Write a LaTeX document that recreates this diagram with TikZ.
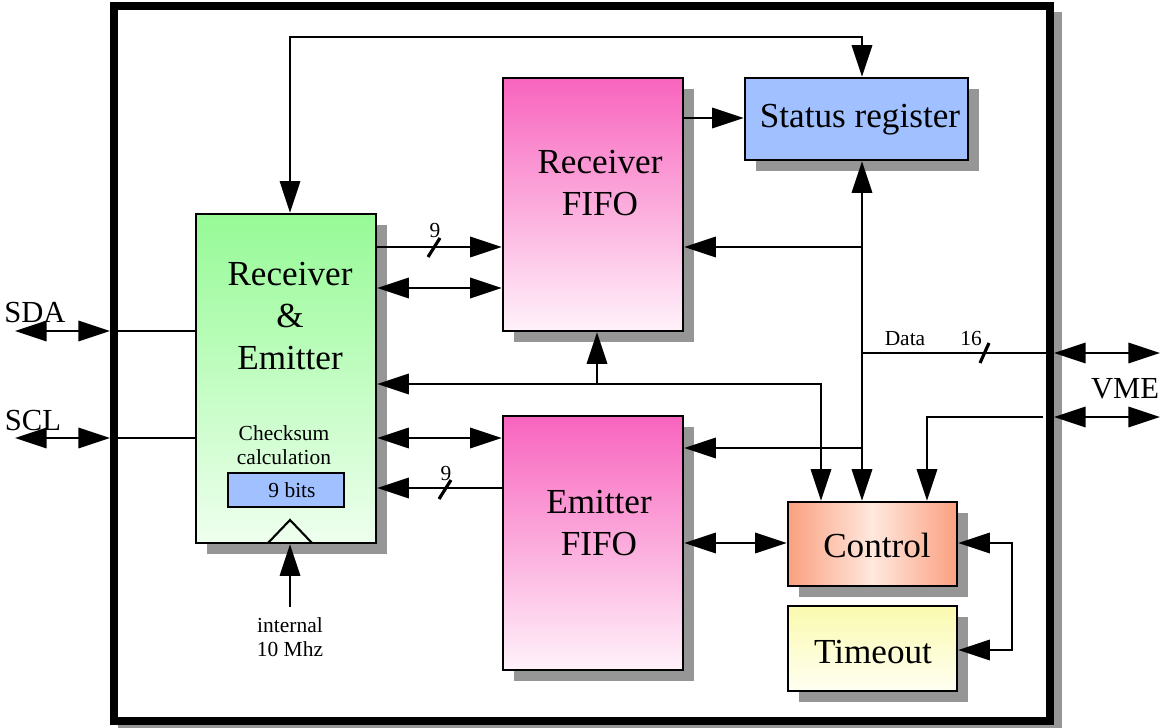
\documentclass[tikz,border=0pt]{standalone}
\usepackage{fontspec}
\setmainfont{Liberation Serif}
\usetikzlibrary{arrows.meta,shadows}
\definecolor{grtop}{RGB}{150,250,150}
\definecolor{grbot}{RGB}{238,255,238}
\definecolor{pktop}{RGB}{248,100,190}
\definecolor{pkbot}{RGB}{255,242,250}
\definecolor{blu}{RGB}{160,192,255}
\definecolor{oredge}{RGB}{250,160,128}
\definecolor{ormid}{RGB}{255,232,222}
\definecolor{yltop}{RGB}{250,250,175}
\definecolor{ylbot}{RGB}{255,255,242}
\definecolor{shd}{RGB}{150,150,150}
\begin{document}
\begin{tikzpicture}[x=0.01cm,y=-0.01cm,
  >={Triangle[length=9pt,width=5.8pt]},
  blk/.style={draw, line width=0.7pt, inner sep=0pt,
    drop shadow={shadow xshift=0.11cm, shadow yshift=-0.11cm, fill=shd, opacity=1}},
  big/.style={font=\fontsize{10}{12}\selectfont, align=center, inner sep=0pt},
  small/.style={font=\fontsize{6.1}{6.8}\selectfont, align=center, inner sep=0pt},
  lbl/.style={font=\fontsize{8.7}{10}\selectfont, inner sep=0pt},
  wire/.style={line width=0.6pt},
  slash/.style={line width=0.9pt}]
\useasboundingbox (0,0) rectangle (1160,728);
% outer frame with shadow
\fill[shd] (118,12) rectangle (1062,735);
\draw[line width=0.08cm, fill=white] (114,6) rectangle (1050,721);

% level coordinates
\coordinate (ytop) at (0,37);
\coordinate (y118) at (0,118);
\coordinate (y247) at (0,247);
\coordinate (y288) at (0,288);
\coordinate (y331) at (0,331);
\coordinate (y353) at (0,353);
\coordinate (y384) at (0,384);
\coordinate (y417) at (0,417);
\coordinate (y438) at (0,438);
\coordinate (y448) at (0,448);
\coordinate (y488) at (0,488);
\coordinate (y543) at (0,543);
\coordinate (y650) at (0,650);
\coordinate (x290) at (290,0);
\coordinate (x597) at (597,0);
\coordinate (x821) at (821,0);
\coordinate (x862) at (862,0);
\coordinate (x927) at (927,0);

% blocks
\node[blk, top color=grtop, bottom color=grbot, minimum width=1.80cm, minimum height=3.29cm] (re) at (286,378.5) {};
\node[blk, top color=pktop, bottom color=pkbot, minimum width=1.80cm, minimum height=2.53cm] (rf) at (593,204.5) {};
\node[blk, top color=pktop, bottom color=pkbot, minimum width=1.80cm, minimum height=2.54cm] (ef) at (593,543) {};
\node[blk, fill=blu, minimum width=2.23cm, minimum height=0.82cm] (sr) at (856.5,119) {};
\node[blk, left color=oredge, right color=oredge, middle color=ormid, minimum width=1.69cm, minimum height=0.84cm] (ctl) at (872.5,544) {};
\node[blk, top color=yltop, bottom color=ylbot, minimum width=1.69cm, minimum height=0.85cm] (to) at (872.5,648.5) {};
\node[draw, line width=0.7pt, fill=blu, minimum width=1.16cm, minimum height=0.34cm, inner sep=0pt] (cs) at (286,490) {};

% texts
\node[big] (reT) at (290,316) {Receiver\\\&\\Emitter};
\node[big] (rfT) at (600,183) {Receiver\\FIFO};
\node[big] (efT) at (599,523) {Emitter\\FIFO};
\node[big] (srT) at (860,120) {Status register};
\node[big] (ctlT) at (877,545) {Control};
\node[big] (toT) at (873,652) {Timeout};
\node[small] (csT) at (284,445) {Checksum\\calculation};
\node[small] (csV) at (292,490) {9 bits};
\node[small] (clkT) at (290,637) {internal\\10 Mhz};
\node[small] (dataT) at (905,339) {Data};
\node[small] (d16) at (971,339) {16};
\node[small] (n9a) at (435,231) {9};
\node[small] (n9b) at (446,474) {9};
\node[lbl] (sdaT) at (35,313) {SDA};
\node[lbl] (sclT) at (33,421) {SCL};
\node[lbl] (vmeT) at (1125,389) {VME};

% clock
\draw[wire] (268,543) -- (290,520) -- (312,543);
\coordinate (clk) at (290,607);
\draw[wire,->] (clk) -- (x290 |- re.south);

% top loop
\draw[wire,<->] (x290 |- re.north) -- (x290 |- ytop) -| (x862 |- sr.north);
% receiver fifo -> status
\draw[wire,->] (rf.east |- y118) -- (sr.west |- y118);
% vertical data distribution
\draw[wire,<->] (x862 |- sr.south) -- (x862 |- ctl.north);
\draw[wire,->] (x862 |- y247) -- (rf.east |- y247);
\draw[wire,->] (x862 |- y448) -- (ef.east |- y448);
\coordinate (dR) at (1050,353);
\coordinate (dRo) at (1054,353);
\coordinate (dE) at (1160,353);
\draw[wire] (x862 |- y353) -- (dR);
\draw[wire,<->] (dRo) -- (dE);
\draw[slash] (980,363) -- (989,343);

% R&E <-> FIFOs
\draw[wire,->] (re.east |- y247) -- (rf.west |- y247);
\draw[slash] (428,257) -- (440,238);
\draw[wire,<->] (re.east |- y288) -- (rf.west |- y288);
\draw[wire,<->] (re.east |- y384) -| (x821 |- ctl.north);
\draw[wire,->] (x597 |- y384) -- (x597 |- rf.south);
\draw[wire,<->] (re.east |- y438) -- (ef.west |- y438);
\draw[wire,->] (ef.west |- y488) -- (re.east |- y488);
\draw[slash] (439,499) -- (451,480);
\draw[wire,<->] (ef.east |- y543) -- (ctl.west |- y543);

% VME second line
\coordinate (v2i) at (1043,417);
\coordinate (v2o) at (1054,417);
\coordinate (v2e) at (1160,417);
\draw[wire,->] (v2i) -| (x927 |- ctl.north);
\draw[wire,<->] (v2o) -- (v2e);

% control <-> timeout
\coordinate (ct1) at (1012,543);
\coordinate (ct2) at (1012,650);
\draw[wire,<->] (ctl.east |- ct1) -- (ct1) -- (ct2) -- (to.east |- ct2);

% SDA / SCL
\coordinate (sdaE) at (15,331);
\coordinate (sdaF) at (110,331);
\coordinate (sclE) at (15,438);
\coordinate (sclF) at (110,438);
\draw[wire,<->] (sdaE) -- (sdaF);
\draw[wire] (sdaF) -- (re.west |- sdaF);
\draw[wire,<->] (sclE) -- (sclF);
\draw[wire] (sclF) -- (re.west |- sclF);
\end{tikzpicture}
\end{document}
